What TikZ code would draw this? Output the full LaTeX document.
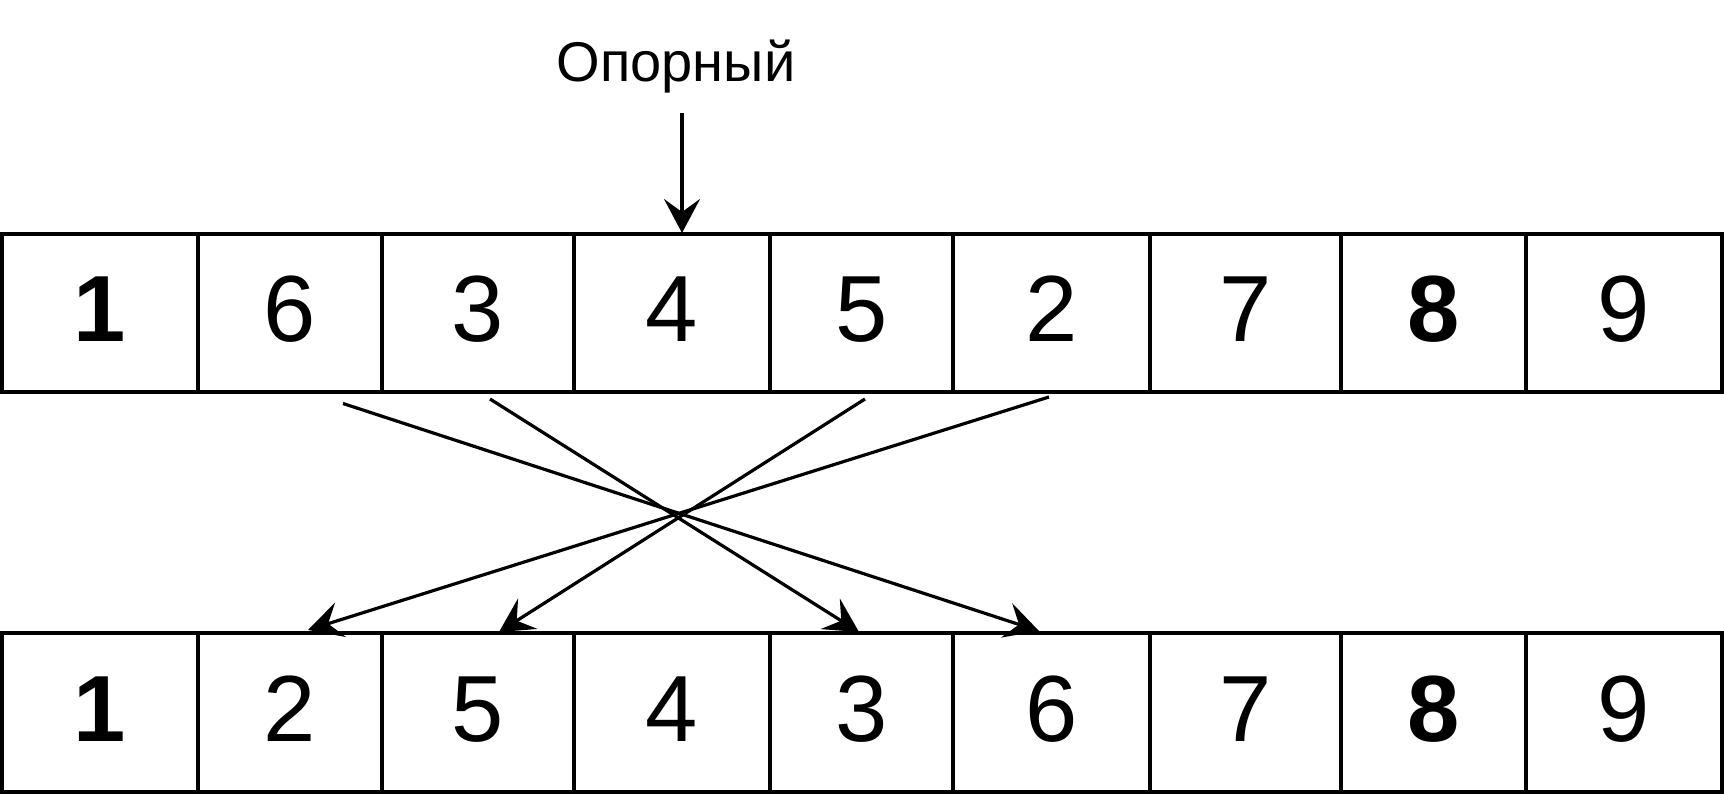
\documentclass[tikz,border=0pt]{standalone}
\usepackage{fontspec}
\setmainfont{Liberation Sans}
\usetikzlibrary{arrows.meta}
\begin{document}
\begin{tikzpicture}[x=0.5pt,y=-0.5pt,
  cell/.style={draw=black, line width=2pt, inner sep=0pt, outer sep=0pt,
    minimum height=79.25pt, text height=33.6pt, text depth=5pt,
    font=\fontsize{47}{52}\selectfont},
  conn/.style={draw=black, line width=1.6pt, -{Stealth[length=17pt,width=18pt,inset=6.5pt]}},
  lbl/.style={font=\fontsize{28}{32}\selectfont, inner sep=0pt}
]
\useasboundingbox (0,0) rectangle (1724,796);
% top row
\node[cell, minimum width=98pt]    (t1) at (100,313.25)    {\bfseries 1};
\node[cell, minimum width=91.75pt] (t2) at (289.75,313.25) {6};
\node[cell, minimum width=96.25pt] (t3) at (477.75,313.25) {3};
\node[cell, minimum width=98pt]    (t4) at (672,313.25)    {4};
\node[cell, minimum width=91.5pt]  (t5) at (861.5,313.25)  {5};
\node[cell, minimum width=98.5pt]  (t6) at (1051.5,313.25) {2};
\node[cell, minimum width=95.5pt]  (t7) at (1245.5,313.25) {7};
\node[cell, minimum width=92.5pt]  (t8) at (1433.5,313.25) {\bfseries 8};
\node[cell, minimum width=98pt]    (t9) at (1624,313.25)   {9};
% bottom row
\node[cell, minimum width=98pt]    (b1) at (100,712.5)    {\bfseries 1};
\node[cell, minimum width=91.75pt] (b2) at (289.75,712.5) {2};
\node[cell, minimum width=96.25pt] (b3) at (477.75,712.5) {5};
\node[cell, minimum width=98pt]    (b4) at (672,712.5)    {4};
\node[cell, minimum width=91.5pt]  (b5) at (861.5,712.5)  {3};
\node[cell, minimum width=98.5pt]  (b6) at (1051.5,712.5) {6};
\node[cell, minimum width=95.5pt]  (b7) at (1245.5,712.5) {7};
\node[cell, minimum width=92.5pt]  (b8) at (1433.5,712.5) {\bfseries 8};
\node[cell, minimum width=98pt]    (b9) at (1624,712.5)   {9};
% pivot label
\node[lbl, anchor=base] (piv) at (676,82) {Опорный};
\coordinate (pivs) at (682,113);
\coordinate (pive) at (682,233);
\draw[conn] (pivs) -- (pive);
% swap arrows
\coordinate (s6) at (343,403.5);
\coordinate (e6) at (1039,631);
\coordinate (s3) at (490,399);
\coordinate (e3) at (859,632);
\coordinate (s5) at (865,399);
\coordinate (e5) at (499,632);
\coordinate (s2) at (1049,397);
\coordinate (e2) at (308,630);
\draw[conn] (s6) -- (e6);
\draw[conn] (s3) -- (e3);
\draw[conn] (s5) -- (e5);
\draw[conn] (s2) -- (e2);
\end{tikzpicture}
\end{document}
